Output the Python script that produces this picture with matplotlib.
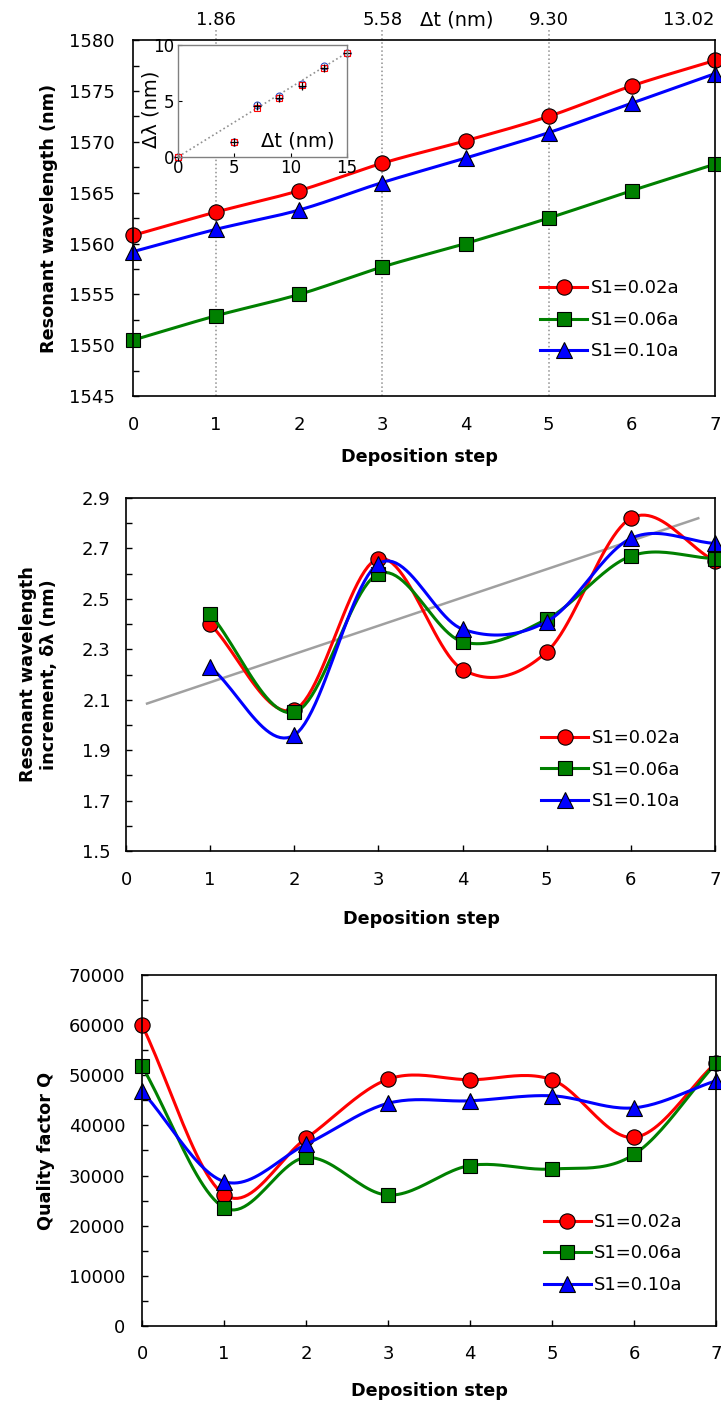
import numpy as np
import matplotlib
matplotlib.use('Agg')
import matplotlib.pyplot as plt
import matplotlib.transforms as mtransforms
from matplotlib.ticker import MultipleLocator

plt.rcParams['font.family'] = ['DejaVu Sans']
plt.rcParams['font.size'] = 13

# deposition steps
steps = [0, 1, 2, 3, 4, 5, 6, 7]
labels = ['S1=0.02a', 'S1=0.06a', 'S1=0.10a']

# resonant wavelength (nm)
wl_002 = [1560.8, 1563.1, 1565.2, 1567.9, 1570.1, 1572.5, 1575.5, 1578.0]
wl_006 = [1550.5, 1552.9, 1555.0, 1557.7, 1560.0, 1562.5, 1565.2, 1567.8]
wl_010 = [1559.2, 1561.4, 1563.3, 1566.0, 1568.4, 1570.9, 1573.8, 1576.7]

# top axis: thickness change
dt_steps = [1, 3, 5, 7]
dt_labels = ['1.86', '5.58', '9.30', '13.02']

# inset: delta lambda vs delta t
inset_dt = [0, 5, 7, 9, 11, 13, 15]
inset_red = [0, 1.3, 4.4, 5.3, 6.4, 7.9, 9.3]
inset_blue = [0, 1.3, 4.6, 5.4, 6.5, 8.1, 9.3]
inset_black = [0, 1.3, 4.5, 5.3, 6.3, 7.9, 9.3]
inset_fit_x = [0, 15]
inset_fit_y = [0, 9.3]

# wavelength increment (nm)
inc_steps = [1, 2, 3, 4, 5, 6, 7]
inc_002 = [2.40, 2.06, 2.66, 2.22, 2.29, 2.82, 2.65]
inc_006 = [2.44, 2.05, 2.60, 2.33, 2.42, 2.67, 2.66]
inc_010 = [2.23, 1.96, 2.64, 2.38, 2.41, 2.74, 2.72]
inc_ticks = [1.5, 1.7, 1.9, 2.1, 2.3, 2.5, 2.7, 2.9]
inc_minor = [1.6, 1.8, 2.0, 2.2, 2.4, 2.6, 2.8]
trend_x = [0.25, 6.8]
trend_y = [2.085, 2.82]

# quality factor
q_002 = [60000, 26200, 37400, 49200, 49100, 49100, 37600, 52500]
q_006 = [51800, 23600, 33600, 26100, 32000, 31300, 34200, 52400]
q_010 = [46800, 28800, 36200, 44400, 44900, 45900, 43500, 48900]

colors = ['#ff0000', '#008000', '#0000ff']
markers = ['o', 's', '^']
msizes = [11, 10.5, 12]


def smooth(x, y, n=24):
    # Catmull-Rom, same look as the spreadsheet "smoothed line"
    x = np.asarray(x, float)
    y = np.asarray(y, float)
    px = np.concatenate([[2 * x[0] - x[1]], x, [2 * x[-1] - x[-2]]])
    py = np.concatenate([[2 * y[0] - y[1]], y, [2 * y[-1] - y[-2]]])
    t = np.linspace(0, 1, n, endpoint=False)
    xs, ys = [], []
    for i in range(len(x) - 1):
        for p, out in ((px, xs), (py, ys)):
            p0, p1, p2, p3 = p[i], p[i + 1], p[i + 2], p[i + 3]
            out.append(0.5 * (2 * p1 + (-p0 + p2) * t
                              + (2 * p0 - 5 * p1 + 4 * p2 - p3) * t ** 2
                              + (-p0 + 3 * p1 - 3 * p2 + p3) * t ** 3))
    xs = np.concatenate(xs + [[x[-1]]])
    ys = np.concatenate(ys + [[y[-1]]])
    idx = [i * n for i in range(len(x))]
    return xs, ys, idx


def draw_series(ax, x, ys):
    for y, c, m, ms, lab in zip(ys, colors, markers, msizes, labels):
        xs, yy, idx = smooth(x, y)
        ax.plot(xs, yy, color=c, lw=2.2, marker=m, markevery=idx, ms=ms,
                mfc=c, mec='black', mew=0.8, label=lab, clip_on=False)


def style(ax, ypad):
    for s in ax.spines.values():
        s.set_linewidth(1.2)
    ax.tick_params(axis='both', which='both', direction='in', length=4,
                   width=1)
    ax.tick_params(axis='y', pad=ypad)
    ax.tick_params(axis='x', pad=14)
    ax.set_xlim(0, 7)
    ax.set_xticks(steps)


def add_legend(ax, anchor):
    ax.legend(loc='lower left', bbox_to_anchor=anchor, frameon=False,
              handlelength=2.6, handletextpad=0.2, labelspacing=0.75,
              borderpad=0, borderaxespad=0, numpoints=1, fontsize=13)


fig = plt.figure(figsize=(7.21, 14.03), dpi=100)

# ---- panel 1: resonant wavelength
ax1 = fig.add_axes([0.1845, 0.7177, 0.807, 0.2537])
style(ax1, 13)
ax1.tick_params(axis='x', length=0)
ax1.set_ylim(1545, 1580)
ax1.yaxis.set_major_locator(MultipleLocator(5))
ax1.yaxis.set_minor_locator(MultipleLocator(2.5))
for xv in dt_steps[:-1]:
    ax1.axvline(xv, ymin=0, ymax=1.033, clip_on=False, color='#909090',
                ls=':', lw=1.1, zorder=1)
trans = mtransforms.blended_transform_factory(ax1.transData, ax1.transAxes)
for xv, lab in zip(dt_steps, dt_labels):
    ax1.text(xv, 1.057, lab, transform=trans, ha='right' if xv == 7 else 'center',
             va='center', fontsize=13)
ax1.text(3.89, 1.057, 'Δt (nm)', transform=trans, ha='center', va='center',
         fontsize=14)
draw_series(ax1, steps, [wl_002, wl_006, wl_010])
ax1.set_xlabel('Deposition step', fontweight='bold', fontsize=12.7)
ax1.xaxis.set_label_coords(0.493, -0.146)
ax1.set_ylabel('Resonant wavelength (nm)', fontweight='bold', fontsize=12.7)
ax1.yaxis.set_label_coords(-0.129, 0.5)
add_legend(ax1, (0.70, 0.10))

# inset
axi = fig.add_axes([0.2473, 0.8883, 0.2336, 0.0796])
for s in axi.spines.values():
    s.set_color('#808080')
    s.set_linewidth(1)
axi.set_xlim(0, 15)
axi.set_ylim(0, 10)
axi.set_xticks([0, 5, 10, 15])
axi.set_yticks([0, 5, 10])
axi.tick_params(direction='in', length=3, labelsize=12, pad=2)
axi.tick_params(axis='y', pad=3)
axi.plot(inset_fit_x, inset_fit_y, ls=':', color='#909090', lw=1.2)
axi.plot(inset_dt, inset_blue, 'o', mfc='none', mec='#3050c0', ms=5,
         mew=0.8, clip_on=False)
axi.plot(inset_dt, inset_red, 's', mfc='none', mec='#ff0000', ms=5,
         mew=0.8, clip_on=False)
axi.plot(inset_dt, inset_black, '+', color='black', ms=6, mew=0.9,
         clip_on=False)
axi.set_ylabel('Δλ (nm)', fontsize=14)
axi.yaxis.set_label_coords(-0.107, 0.42)
axi.text(0.71, 0.14, 'Δt (nm)', transform=axi.transAxes, ha='center',
         va='center', fontsize=14)

# ---- panel 2: wavelength increment
ax2 = fig.add_axes([0.1748, 0.3934, 0.817, 0.2516])
style(ax2, 11)
ax2.set_ylim(1.5, 2.9)
ax2.set_yticks(inc_ticks)
ax2.set_yticks(inc_minor, minor=True)
ax2.plot(trend_x, trend_y, color='#a0a0a0', lw=1.8, zorder=1)
draw_series(ax2, inc_steps, [inc_002, inc_006, inc_010])
ax2.set_xlabel('Deposition step', fontweight='bold', fontsize=12.7)
ax2.xaxis.set_label_coords(0.502, -0.167)
ax2.set_ylabel('Resonant wavelength\nincrement, δλ (nm)', fontweight='bold',
               fontsize=12.7, linespacing=1.2)
ax2.yaxis.set_label_coords(-0.115, 0.5)
add_legend(ax2, (0.705, 0.116))

# ---- panel 3: quality factor
ax3 = fig.add_axes([0.197, 0.0549, 0.796, 0.2502])
style(ax3, 12)
ax3.set_ylim(0, 70000)
ax3.yaxis.set_major_locator(MultipleLocator(10000))
ax3.yaxis.set_minor_locator(MultipleLocator(5000))
draw_series(ax3, steps, [q_002, q_006, q_010])
ax3.set_xlabel('Deposition step', fontweight='bold', fontsize=12.7)
ax3.xaxis.set_label_coords(0.50, -0.16)
ax3.set_ylabel('Quality factor Q', fontweight='bold', fontsize=12.7)
ax3.yaxis.set_label_coords(-0.152, 0.5)
add_legend(ax3, (0.70, 0.091))

fig.savefig('out.png', dpi=100, facecolor='white')
